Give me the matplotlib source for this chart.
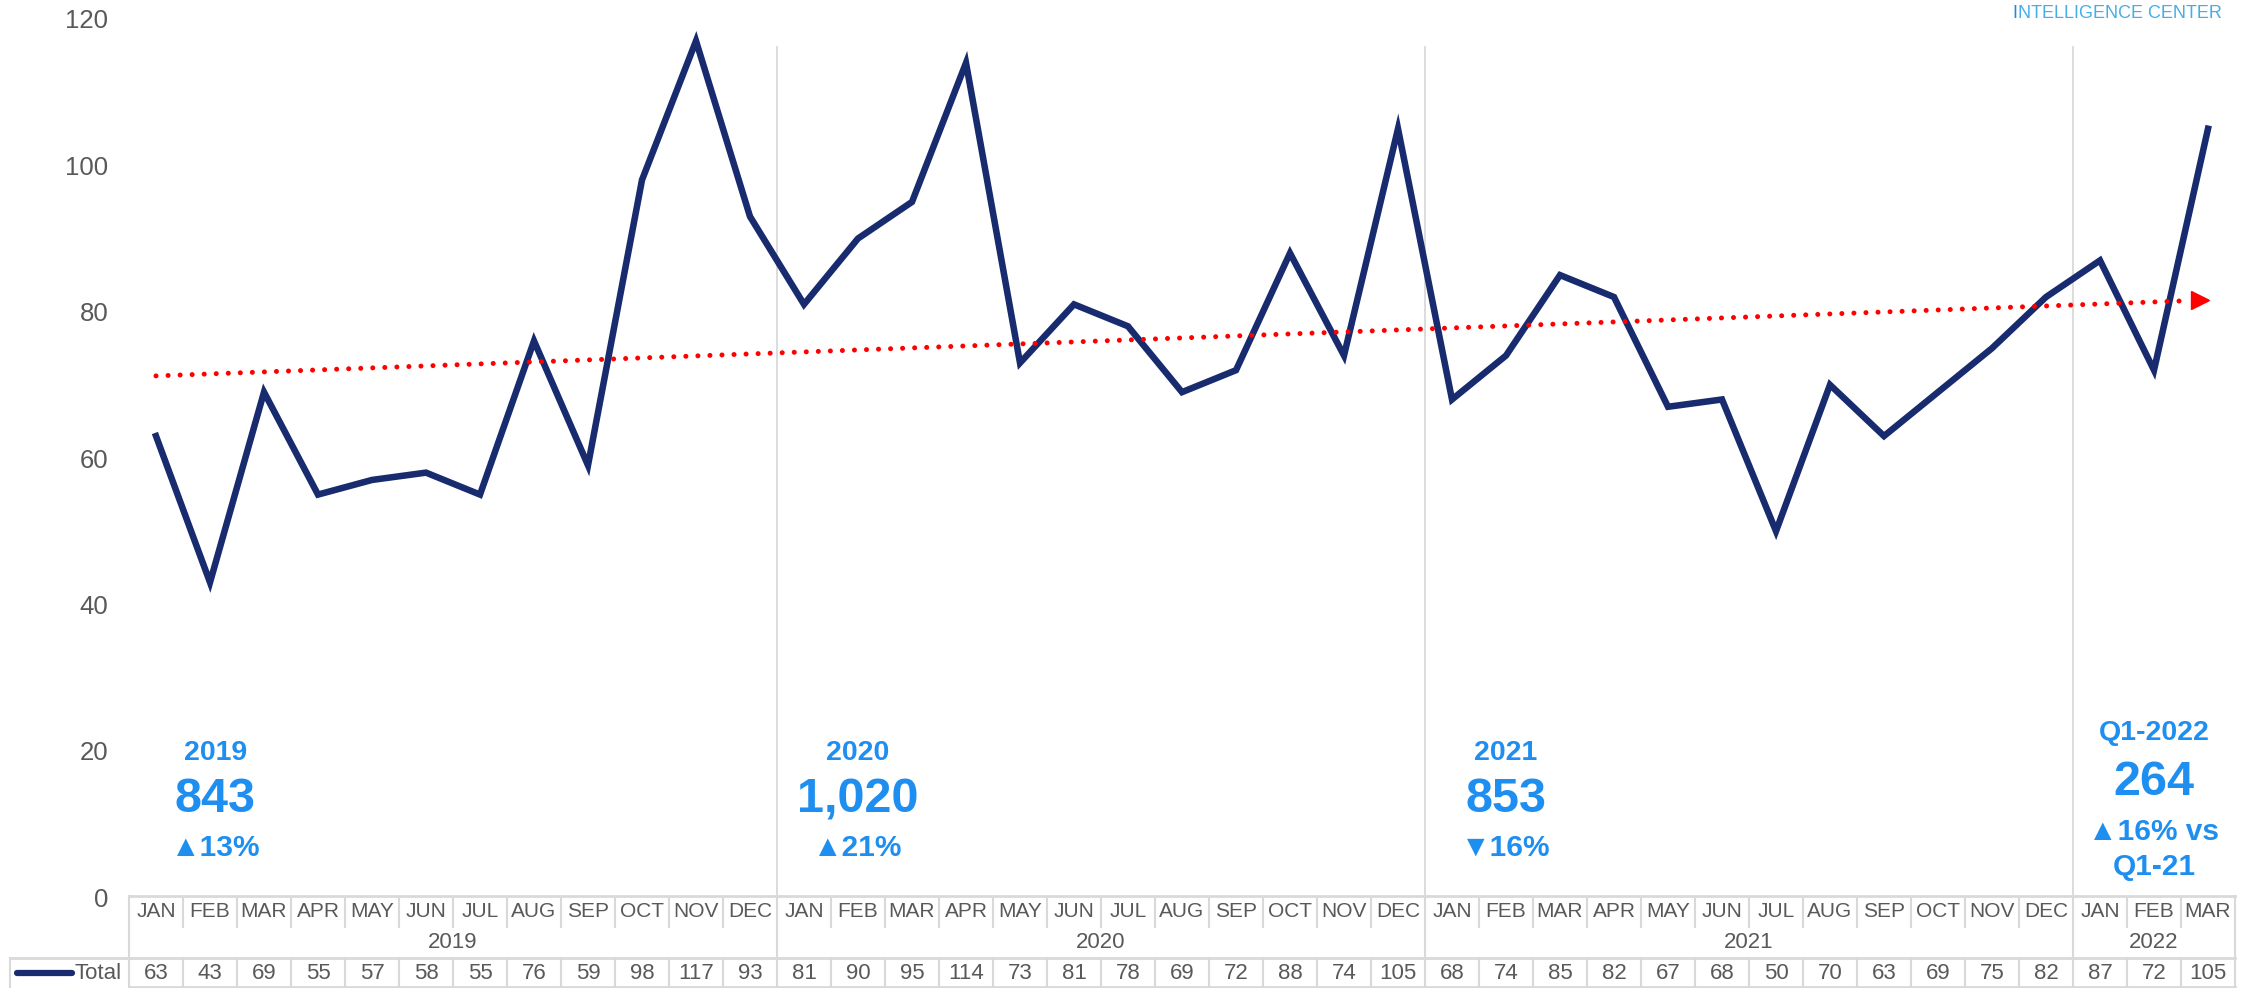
import numpy as np
import matplotlib.pyplot as plt
import matplotlib.transforms as mtransforms

plt.rcParams['font.family'] = ['Liberation Sans', 'DejaVu Sans']

# monthly totals, Jan 2019 - Mar 2022
month_names = ["JAN", "FEB", "MAR", "APR", "MAY", "JUN",
               "JUL", "AUG", "SEP", "OCT", "NOV", "DEC"]
years = ["2019", "2020", "2021", "2022"]
year_lengths = [12, 12, 12, 3]
totals = [63, 43, 69, 55, 57, 58, 55, 76, 59, 98, 117, 93,
          81, 90, 95, 114, 73, 81, 78, 69, 72, 88, 74, 105,
          68, 74, 85, 82, 67, 68, 50, 70, 63, 69, 75, 82,
          87, 72, 105]
month_labels = [m for n in year_lengths for m in month_names[:n]]

# yearly call-outs
ann_titles = ["2019", "2020", "2021", "Q1-2022"]
ann_totals = ["843", "1,020", "853", "264"]
ann_changes = [["▲13%"], ["▲21%"], ["▼16%"], ["▲16% vs", "Q1-21"]]

navy = "#172B6E"
blue = "#1E8FF0"
grey_txt = "#595959"
grey_line = "#D9D9D9"

W, H = 2244, 988
fig = plt.figure(figsize=(W / 100, H / 100), dpi=100)
ax = fig.add_axes([129 / W, (H - 897) / H, 2106 / W, 878 / H])

x = np.arange(len(totals))
ax.plot(x, totals, color=navy, lw=4.7, solid_joinstyle="miter", zorder=3)

# linear trend line with arrow head
k, b = np.polyfit(x, totals, 1)
x_end = x[-1] - 17 / 54
xt = np.array([0, x_end])
ax.plot(xt, k * xt + b, color="red", lw=3.6, linestyle=(0, (0.01, 2.4)),
        dash_capstyle="round", zorder=4)
shift = mtransforms.ScaledTranslation(-8.5 / 100, 0, fig.dpi_scale_trans)
ax.plot([x[-1]], [k * x[-1] + b], marker=">", ms=12.5, color="red", lw=0,
        transform=ax.transData + shift, zorder=4)

ax.set_xlim(-0.5, len(totals) - 0.5)
ax.set_ylim(0, 120)
ax.set_yticks(range(0, 121, 20))
ax.set_xticks([])
ax.tick_params(axis="y", length=0, pad=15, labelsize=18.5, labelcolor=grey_txt)
for s in ["top", "right", "left", "bottom"]:
    ax.spines[s].set_visible(False)

# year separators in the plot area
bounds = np.cumsum(year_lengths)[:-1] - 0.5
for bx in bounds:
    ax.axvline(bx, ymin=0, ymax=(897 - 47) / 878, color=grey_line, lw=1.3, zorder=1)

# year call-outs
ann_x = [1.1, 13, 25, 37]
for i in range(4):
    if len(ann_changes[i]) == 1:
        ys = [19.7, 13.3, 6.7]
    else:
        ys = [22.4, 15.7, 8.9, 4.1]
    ax.text(ann_x[i], ys[0], ann_titles[i], ha="center", va="center",
            fontsize=20.5, fontweight="bold", color=blue)
    ax.text(ann_x[i], ys[1], ann_totals[i], ha="center", va="center",
            fontsize=35, fontweight="bold", color=blue)
    for j, line in enumerate(ann_changes[i]):
        ax.text(ann_x[i], ys[2 + j], line, ha="center", va="center",
                fontsize=21.5, fontweight="bold", color=blue)

# data table under the chart (x in data, y in figure pixels)
tr = mtransforms.blended_transform_factory(ax.transData, fig.transFigure)


def fy(py):
    return (H - py) / H


def hline(x0, x1, py, t=tr):
    fig.add_artist(plt.Line2D([x0, x1], [fy(py), fy(py)], color=grey_line, lw=2, transform=t))


def vline(xx, p0, p1, t=tr):
    fig.add_artist(plt.Line2D([xx, xx], [fy(p0), fy(p1)], color=grey_line, lw=1.5, transform=t))


xl, xr = -0.5, len(totals) - 0.5
hline(xl, xr, 896)
hline(xl, xr, 958)
hline(xl, xr, 987)
vline(xl, 896, 988)
vline(xr, 896, 988)
for bx in bounds:
    vline(bx, 896, 988)
for i in range(len(totals) - 1):
    if i + 0.5 not in bounds:
        vline(i + 0.5, 899, 927)
        vline(i + 0.5, 958, 988)

pix = fig.transFigure
fig.add_artist(plt.Line2D([10 / W, 10 / W], [fy(958), fy(988)], color=grey_line, lw=1.5, transform=pix))
fig.add_artist(plt.Line2D([10 / W, 129 / W], [fy(958), fy(958)], color=grey_line, lw=2, transform=pix))
fig.add_artist(plt.Line2D([17 / W, 72 / W], [fy(973), fy(973)], color=navy, lw=4.5,
                          solid_capstyle="round", transform=pix))
fig.text(122 / W, fy(973), "Total", ha="right", va="center", fontsize=16, color=grey_txt)

for i, lab in enumerate(month_labels):
    fig.text(i, fy(911), lab, ha="center", va="center", fontsize=15, color=grey_txt, transform=tr)
    fig.text(i, fy(973), str(totals[i]), ha="center", va="center", fontsize=16,
             color=grey_txt, transform=tr)
start = 0
for yl, n in zip(years, year_lengths):
    fig.text(start + (n - 1) / 2, fy(942), yl, ha="center", va="center", fontsize=16,
             color=grey_txt, transform=tr)
    start += n

# logo text at the top right corner
fig.text(2012 / W, fy(13), "I", ha="left", va="center", fontsize=13, color="#1A8CD8")
fig.text(2018 / W, fy(13), "NTELLIGENCE CENTER", ha="left", va="center", fontsize=13,
         color="#45AEE8")

fig.savefig("out.png", dpi=100)
